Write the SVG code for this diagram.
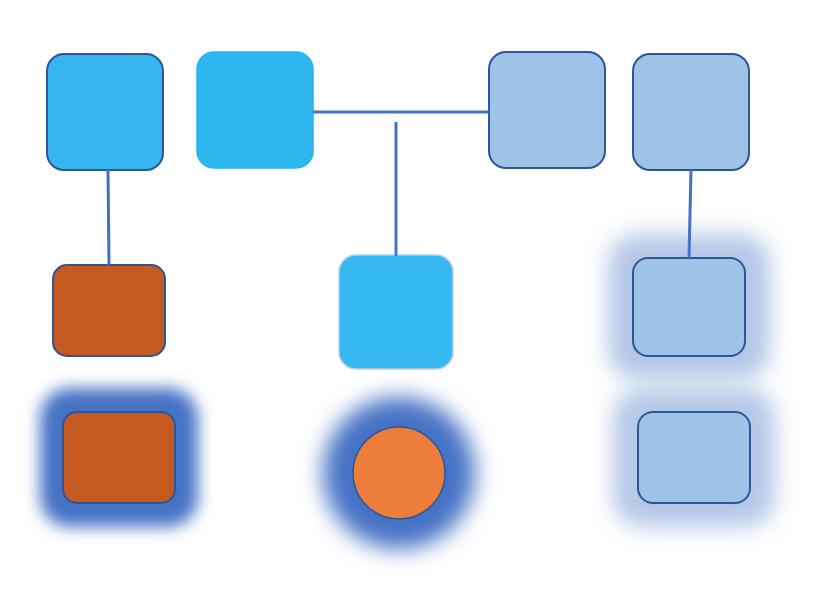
<svg xmlns="http://www.w3.org/2000/svg" width="822" height="590" viewBox="0 0 822 590">
<defs>
<filter id="glowBlur" x="-50%" y="-50%" width="200%" height="200%"><feGaussianBlur stdDeviation="8"/></filter>
<filter id="glowBlurL" x="-50%" y="-50%" width="200%" height="200%"><feGaussianBlur stdDeviation="11"/></filter>
</defs>
<style>
.dk{stroke:#2f5597;stroke-width:2}
.blue{fill:#35b6f0}
.pale{fill:#9dc3e6}
.rust{fill:#c55a20}
.conn{stroke:#4472c4;stroke-width:3;fill:none}
.glowD{fill:#4472c4}
.glowL{fill:#b4c7e7}
</style>
<rect width="822" height="590" fill="#ffffff"/>
<g id="node1"><rect class="blue dk" x="47" y="54" width="116" height="116" rx="17"/></g>
<g id="node2"><rect x="197" y="52" width="116" height="116" rx="17" fill="#2eb6ee" stroke="#2ab3ea" stroke-width="1.5"/></g>
<g id="node3"><rect class="pale dk" x="489" y="52" width="116" height="116" rx="17"/></g>
<g id="node4"><rect class="pale dk" x="633" y="54" width="116" height="116" rx="17"/></g>
<g id="node5"><rect class="rust dk" x="53" y="265" width="112" height="91" rx="14"/></g>
<g id="node6"><rect x="339" y="255" width="114" height="114" rx="17" fill="#36b9f1" stroke="#bccbe9" stroke-width="1.5"/></g>
<g id="node7">
<rect class="glowL" x="608" y="234" width="162" height="146" rx="30" filter="url(#glowBlurL)"/>
<rect class="pale dk" x="633" y="258" width="112" height="98" rx="15"/>
</g>
<g id="node8">
<rect class="glowD" x="40" y="388" width="158" height="139" rx="30" filter="url(#glowBlur)"/>
<rect class="rust dk" x="63" y="412" width="112" height="91" rx="14"/>
</g>
<g id="node9">
<circle class="glowD" cx="399" cy="473" r="76" filter="url(#glowBlurL)"/>
<circle cx="399" cy="473" r="46" fill="#ed7d3a" stroke="#2f5597" stroke-width="1.5"/>
</g>
<g id="node10">
<rect class="glowL" x="613" y="388" width="162" height="139" rx="30" filter="url(#glowBlurL)"/>
<rect class="pale dk" x="638" y="412" width="112" height="91" rx="15"/>
</g>
<g id="connectors">
<line class="conn" x1="313" y1="112" x2="489" y2="112"/>
<line class="conn" x1="396" y1="122" x2="396" y2="256"/>
<line class="conn" x1="108" y1="170" x2="109" y2="265"/>
<line class="conn" x1="691" y1="170" x2="689" y2="258"/>
</g>
</svg>
